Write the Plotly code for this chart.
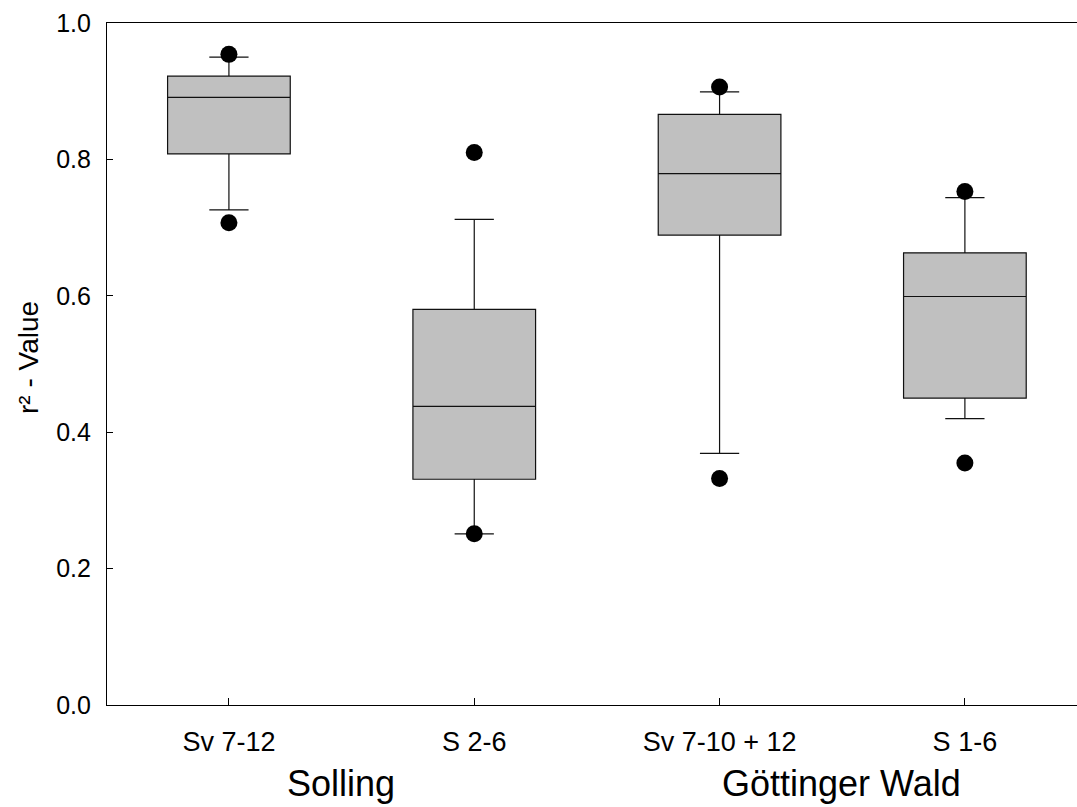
import plotly.graph_objects as go

categories = ["Sv 7-12", "S 2-6", "Sv 7-10 + 12", "S 1-6"]
q1 = [0.808, 0.331, 0.689, 0.450]
median = [0.891, 0.438, 0.779, 0.599]
q3 = [0.922, 0.580, 0.866, 0.663]
lower_whisker = [0.726, 0.251, 0.369, 0.420]
upper_whisker = [0.950, 0.712, 0.899, 0.744]
outlier_low = [0.707, 0.251, 0.332, 0.355]
outlier_high = [0.954, 0.810, 0.906, 0.753]
group_labels = ["Solling", "Göttinger Wald"]
group_positions = [0.457, 2.495]
y_ticks = [0.0, 0.2, 0.4, 0.6, 0.8, 1.0]

pos = list(range(len(categories)))
FONT = "Liberation Sans, Arial, sans-serif"

fig = go.Figure()
fig.add_trace(go.Box(
    x=pos, q1=q1, median=median, q3=q3,
    lowerfence=lower_whisker, upperfence=upper_whisker,
    width=0.5, whiskerwidth=0.32,
    fillcolor="#c0c0c0", line=dict(color="#111111", width=1.2),
    boxpoints=False, showlegend=False, hoverinfo="skip",
))
fig.add_trace(go.Scatter(
    x=pos + pos, y=outlier_low + outlier_high, mode="markers",
    marker=dict(color="black", size=17, line=dict(width=0)),
    showlegend=False, hoverinfo="skip",
))

W, H = 1077, 807
L, R, T, B = 107, 0, 23, 102
fig.update_layout(
    width=W, height=H,
    margin=dict(l=L, r=R, t=T, b=B),
    paper_bgcolor="white", plot_bgcolor="white",
    font=dict(family=FONT, color="black"),
    xaxis=dict(
        range=[-0.497, 3.457], tickmode="array", tickvals=pos, ticktext=categories,
        ticks="inside", ticklen=7, tickcolor="black", tickwidth=1,
        showline=True, linecolor="black", linewidth=1.2, mirror=True,
        showgrid=False, zeroline=False, tickfont=dict(size=27, family=FONT),
        ticklabelstandoff=12,
    ),
    yaxis=dict(
        range=[0, 1.0], tickmode="array", tickvals=y_ticks, tickformat=".1f",
        ticks="inside", ticklen=6, tickcolor="black", tickwidth=1,
        showline=True, linecolor="black", linewidth=1.2, mirror=False,
        showgrid=False, zeroline=False, tickfont=dict(size=25, family=FONT),
        ticklabelstandoff=10,
    ),
    annotations=[
        dict(text="r² - Value", xref="paper", yref="paper", x=(28 - L) / (W - L - R),
             y=(705 - 358) / 682, textangle=-90, showarrow=False,
             font=dict(size=28, family=FONT), xanchor="center", yanchor="middle"),
    ] + [
        dict(text=g, xref="x", yref="paper", x=gx, y=(705 - 784) / 682,
             showarrow=False, font=dict(size=36, family=FONT),
             xanchor="center", yanchor="middle")
        for g, gx in zip(group_labels, group_positions)
    ],
)

fig.write_html("out.html")
